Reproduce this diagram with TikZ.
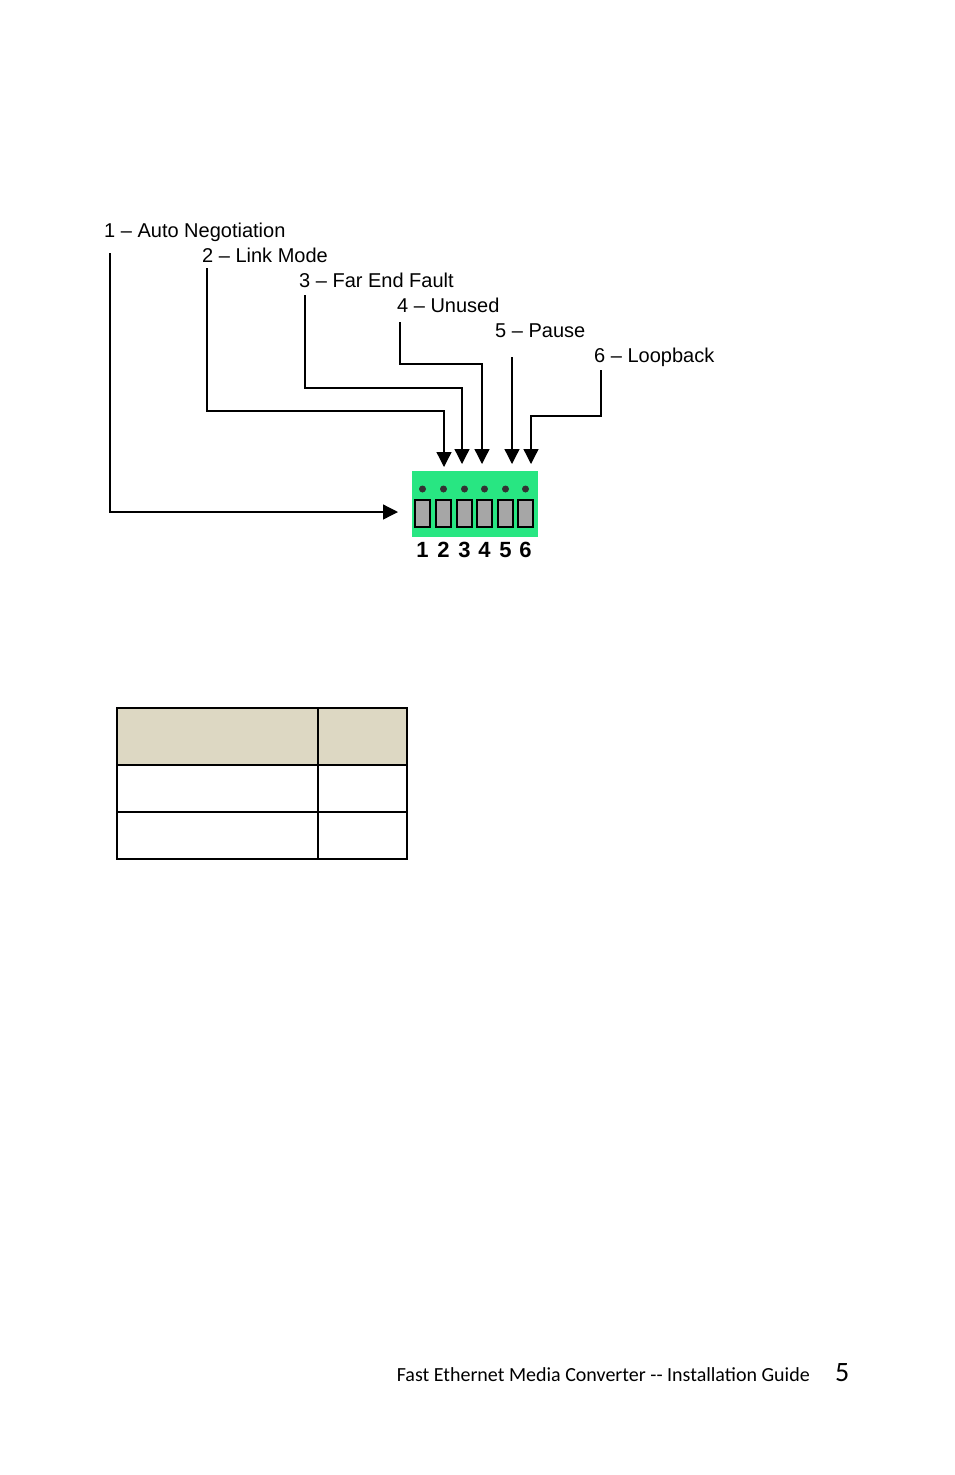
\documentclass[tikz,border=0pt]{standalone}
\usepackage{fontspec}
\setmainfont{Liberation Sans}
\newfontfamily\carl{Carlito}
\usetikzlibrary{arrows.meta}
\begin{document}
\begin{tikzpicture}[x=1pt,y=-1pt,
  lbl/.style={anchor=base west,inner sep=0pt,font=\fontsize{20}{22}\selectfont},
  wire/.style={line width=1.3pt,-{Triangle[length=15pt,width=15pt]}},
  sw/.style={fill=gray!70,draw=black,line width=1.2pt},
  dig/.style={font=\fontsize{22}{24}\selectfont\bfseries,inner sep=0pt,anchor=base}]
\useasboundingbox (0,0) rectangle (954,1475);
\node[lbl] (l1) at (104,237) {1 -- Auto Negotiation};
\node[lbl] (l2) at (202,262) {2 -- Link Mode};
\node[lbl] (l3) at (299,287) {3 -- Far End Fault};
\node[lbl] (l4) at (397,312) {4 -- Unused};
\node[lbl] (l5) at (495,337) {5 -- Pause};
\node[lbl] (l6) at (594,362) {6 -- Loopback};
\fill[green!80!cyan!70!white,fill={rgb,255:red,40;green,230;blue,130}] (412,471) rectangle (538,537);
\coordinate (sb) at (412,471);
\foreach \x [count=\i] in {415,436,457,477,498,518}{
  \draw[sw] (\x,500) rectangle ++(15,27);
  \fill[black!80] (\x+7.5,489) circle (3.5);
  \node[dig] (d\i) at (\x+7.5,557) {\i};
}
\draw[wire] (110,253) -- (110,512) -- (398,512);
\draw[wire] (207,268) -- (207,411) -- (444,411) -- (444,467);
\draw[wire] (305,295) -- (305,388) -- (462,388) -- (462,464);
\draw[wire] (400,322) -- (400,364) -- (482,364) -- (482,464);
\draw[wire] (512,357) -- (512,464);
\draw[wire] (601,370) -- (601,416) -- (531,416) -- (531,464);
\fill[fill={rgb,255:red,221;green,216;blue,195}] (117,708) rectangle (407,765);
\draw[line width=1.3pt] (117,708) rectangle (407,859);
\draw[line width=1.3pt] (318,708) -- (318,859) (117,765) -- (407,765) (117,812) -- (407,812);
\node[anchor=base east,inner sep=0pt,font=\carl\fontsize{20}{22}\selectfont] (ft) at (810,1381) {Fast Ethernet Media Converter -- Installation Guide};
\node[anchor=base west,inner sep=0pt,font=\carl\fontsize{28}{30}\selectfont] (pg) at (835,1381) {5};
\end{tikzpicture}
\end{document}
